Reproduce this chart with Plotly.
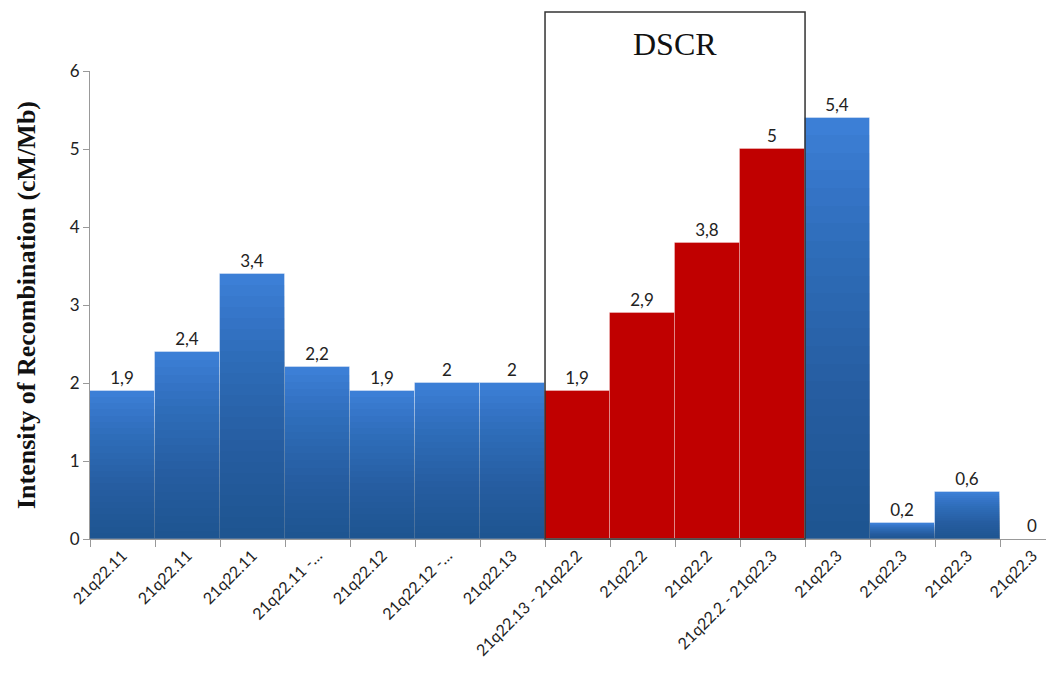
import plotly.graph_objects as go

categories = ["21q22.11", "21q22.11", "21q22.11", "21q22.11 -…", "21q22.12",
              "21q22.12 -…", "21q22.13", "21q22.13 - 21q22.2", "21q22.2", "21q22.2",
              "21q22.2 - 21q22.3", "21q22.3", "21q22.3", "21q22.3", "21q22.3"]
values = [1.9, 2.4, 3.4, 2.2, 1.9, 2, 2, 1.9, 2.9, 3.8, 5, 5.4, 0.2, 0.6, 0]
in_dscr = [False] * 7 + [True] * 4 + [False] * 4
y_ticks = [0, 1, 2, 3, 4, 5, 6]

x = list(range(len(values)))
labels = [("%g" % v).replace(".", ",") for v in values]
blue_x = [i for i in x if not in_dscr[i]]
red_x = [i for i in x if in_dscr[i]]

fig = go.Figure()
fig.add_trace(go.Bar(
    x=blue_x, y=[values[i] for i in blue_x], width=1,
    marker=dict(color="#3c7fd6", line=dict(color="rgba(255,255,255,0.35)", width=1)),
    text=[labels[i] for i in blue_x], textposition="outside",
    textfont=dict(family="Lato", size=17, color="#222"), cliponaxis=False,
    hoverinfo="skip", showlegend=False))
# gradient shading (darker toward the base) built from the same values
N = 24
for k in range(1, N):
    frac = 1 - k / N
    fig.add_trace(go.Bar(
        x=blue_x, y=[values[i] * frac for i in blue_x], width=1,
        marker=dict(color="rgba(31,63,117,0.042)", line=dict(width=0)),
        hoverinfo="skip", showlegend=False))
fig.add_trace(go.Bar(
    x=red_x, y=[values[i] for i in red_x], width=1,
    marker=dict(color="#c00000", line=dict(color="rgba(255,255,255,0.3)", width=1)),
    text=[labels[i] for i in red_x], textposition="outside",
    textfont=dict(family="Lato", size=17, color="#222"), cliponaxis=False,
    hoverinfo="skip", showlegend=False))

# DSCR box around the red bars
fig.add_shape(type="rect", xref="x", yref="paper",
              x0=min(red_x) - 0.5, x1=max(red_x) + 0.5, y0=0, y1=1.126,
              line=dict(color="#333", width=1.5), fillcolor="rgba(0,0,0,0)", layer="above")
fig.add_annotation(x=(min(red_x) + max(red_x)) / 2, xref="x", y=1.058, yref="paper",
                   yanchor="middle", xanchor="center",
                   text="DSCR", showarrow=False,
                   font=dict(family="Liberation Serif", size=32, color="#111"))

fig.update_layout(
    width=1046, height=684, barmode="overlay", bargap=0,
    plot_bgcolor="white", paper_bgcolor="white",
    margin=dict(l=82, r=0, t=63, b=153, autoexpand=False),
    xaxis=dict(range=[-0.5, 14.33], tickmode="array", tickvals=x, ticktext=categories,
               tickangle=-45, ticks="", showgrid=False, zeroline=False, automargin=False,
               showline=True, linecolor="#999", linewidth=1,
               tickfont=dict(family="Lato", size=16, color="#222"),
               minor=dict(ticks="outside", tick0=0.5, dtick=1, ticklen=7,
                          tickcolor="#999", showgrid=False)),
    yaxis=dict(range=[0, 6], tickvals=y_ticks, ticks="outside", ticklen=6,
               tickcolor="#999", showgrid=False, zeroline=False, automargin=False,
               showline=True, linecolor="#999", linewidth=1,
               tickfont=dict(family="Lato", size=17, color="#222"),
               title=dict(text="<b>Intensity of Recombination (cM/Mb)</b>",
                          font=dict(family="Liberation Serif", size=26, color="#111"),
                          standoff=26)),
)

fig.write_html("out.html")
